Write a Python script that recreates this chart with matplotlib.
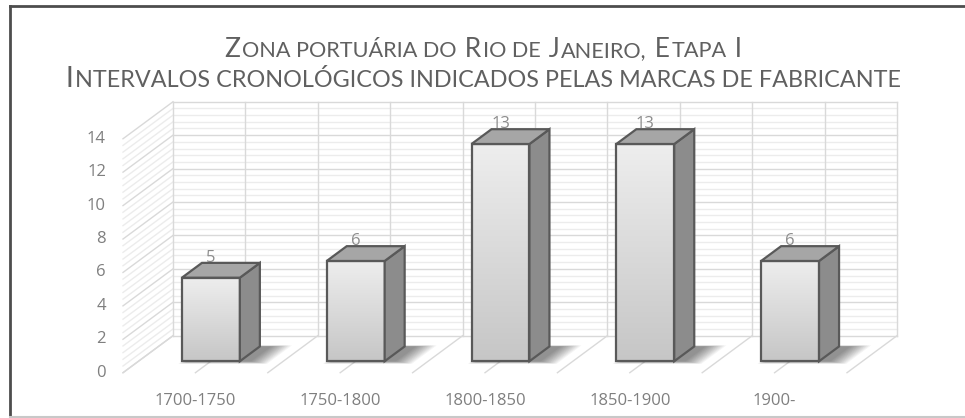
import numpy as np
import matplotlib.pyplot as plt
from matplotlib.patches import Polygon
from matplotlib.lines import Line2D
from matplotlib.colors import LinearSegmentedColormap

# data
periods = ["1700-1750", "1750-1800", "1800-1850", "1850-1900", "1900-"]
counts = [5, 6, 13, 13, 6]
y_ticks = [0, 2, 4, 6, 8, 10, 12, 14]
minor_step = 0.4
title_1 = "Zona portuária do Rio de Janeiro, Etapa I"
title_2 = "Intervalos cronológicos indicados pelas marcas de fabricante"

W, H = 965, 418
fig = plt.figure(figsize=(W / 100, H / 100), dpi=100)
fig.patch.set_facecolor("white")
ax = fig.add_axes([0, 0, 1, 1])
ax.set_axis_off()

# back wall layout in pixels (category width / value unit)
px_left, px_cat = 173, 144.8
px_zero, px_unit = 335.7, 16.71
xlim = (-px_left / px_cat - 0.5, (W - px_left) / px_cat - 0.5)
ylim = ((px_zero - H) / px_unit, px_zero / px_unit)

# oblique depth vector, back wall (d=0) -> front (d=1)
DX = -50 / px_cat
DY = -37 / px_unit


def P(c, v, d):
    return (c + d * DX, v + d * DY)


n = len(periods)
c0, c1 = -0.5, n - 0.5
vmax = y_ticks[-1]
tick_color = "#7f7f7f"
major_col, minor_col = "#d9d9d9", "#ececec"

# walls: horizontal lines on back wall + diagonals on side wall
for v in np.arange(0, vmax + 1e-6, minor_step):
    is_major = any(np.isclose(v, t) for t in y_ticks)
    col = major_col if is_major else minor_col
    a, b = P(c0, v, 0), P(c1, v, 0)
    ax.add_line(Line2D([a[0], b[0]], [a[1], b[1]], color=col, lw=1, zorder=1 + is_major))
    a, b = P(c0, v, 0), P(c0, v, 1)
    ax.add_line(Line2D([a[0], b[0]], [a[1], b[1]], color=col, lw=1, zorder=1 + is_major))

# vertical back wall lines and floor lines
for c in np.arange(c0, c1 + 1e-6, 0.5):
    a, b = P(c, 0, 0), P(c, vmax, 0)
    ax.add_line(Line2D([a[0], b[0]], [a[1], b[1]], color=major_col, lw=1, zorder=2))
    a, b = P(c, 0, 0), P(c, 0, 1)
    ax.add_line(Line2D([a[0], b[0]], [a[1], b[1]], color=major_col, lw=1, zorder=2))

# bars
bw = 0.4
d_back, d_front = 0.29, 0.69
grad_cmap = LinearSegmentedColormap.from_list("face", ["#c6c6c6", "#eeeeee"])
grad = np.linspace(0, 1, 256).reshape(-1, 1)
edge = "#595959"

for i, v in enumerate(counts):
    xl, xr = i - bw / 2, i + bw / 2
    # soft shadow on floor
    for k in range(12):
        g = 0.01 + k * 0.012
        sh = 0.07
        pts = [P(xl - g * 0.5 + sh, 0, d_front + g * 0.5), P(xr + g + sh, 0, d_front + g * 0.5),
               P(xr + g + sh, 0, d_back - g * 0.2), P(xl - g * 0.5 + sh, 0, d_back - g * 0.2)]
        ax.add_patch(Polygon(pts, closed=True, facecolor="#000000", alpha=0.045,
                             edgecolor="none", zorder=3))
    # data label (sits just behind the bar top)
    lx, ly = P(i, v, d_front)
    ax.text(lx, ly + 1.2, str(v), ha="center", va="center", fontsize=12,
            color="#8c8c8c", family="Open Sans", zorder=3.5)
    # front face
    fx0, fy0 = P(xl, 0, d_front)
    fx1, fy1 = P(xr, v, d_front)
    ax.imshow(grad, extent=[fx0, fx1, fy0, fy1], cmap=grad_cmap, aspect="auto",
              origin="lower", zorder=4)
    ax.add_patch(Polygon([P(xl, 0, d_front), P(xr, 0, d_front), P(xr, v, d_front), P(xl, v, d_front)],
                         closed=True, facecolor="none", edgecolor=edge, lw=1.6, zorder=5))
    # side face
    ax.add_patch(Polygon([P(xr, 0, d_front), P(xr, 0, d_back), P(xr, v, d_back), P(xr, v, d_front)],
                         closed=True, facecolor="#8c8c8c", edgecolor=edge, lw=1.6, zorder=5))
    # top face
    ax.add_patch(Polygon([P(xl, v, d_front), P(xr, v, d_front), P(xr, v, d_back), P(xl, v, d_back)],
                         closed=True, facecolor="#a6a6a6", edgecolor=edge, lw=1.6, zorder=5))

# value axis labels on the front plane
for t in y_ticks:
    x, y = P(c0, t, 1)
    ax.text(x - 17 / px_cat, y, str(t), ha="right", va="center", fontsize=12,
            color=tick_color, family="Open Sans")

# category labels
for i, lab in enumerate(periods):
    x, y = P(i, 0, 1)
    ax.text(x, y - 1.68, lab, ha="center", va="center", fontsize=12,
            color=tick_color, family="Open Sans")

ax.set_xlim(*xlim)
ax.set_ylim(*ylim)

# frame
fig.add_artist(Line2D([10 / W, 10 / W], [0, 1 - 5.5 / H], transform=fig.transFigure,
                      color="#4d4d4d", lw=2))
fig.add_artist(Line2D([10 / W, 1], [1 - 5.5 / H, 1 - 5.5 / H], transform=fig.transFigure,
                      color="#4d4d4d", lw=2))
fig.add_artist(Line2D([10 / W, 1], [1.5 / H, 1.5 / H], transform=fig.transFigure,
                      color="#c8c8c8", lw=1.5))


# title in small caps: capitals large, lowercase as smaller capitals
def small_caps(text, cx, base_y, big, small):
    runs = []
    pending = ""
    for ch in text:
        if ch == " ":
            pending += " "
            continue
        is_big = ch.isupper()
        s = pending + (ch if is_big else ch.upper())
        pending = ""
        if runs and runs[-1][1] == is_big:
            runs[-1][0] += s
        else:
            runs.append([s, is_big])
    renderer = fig.canvas.get_renderer()
    arts, widths = [], []
    for s, is_big in runs:
        t = fig.text(0, base_y / H, s, fontsize=big if is_big else small, color="#606060",
                     family="Lato", weight="normal", va="baseline", ha="left")
        arts.append(t)
        widths.append(t.get_window_extent(renderer).width + 1.5)
    x = cx - sum(widths) / 2
    for t, w in zip(arts, widths):
        t.set_x(x / W)
        x += w


small_caps(title_1, 484, H - 57, 19, 15.6)
small_caps(title_2, 484, H - 87, 20, 16.8)

fig.savefig("out.png", dpi=100)
